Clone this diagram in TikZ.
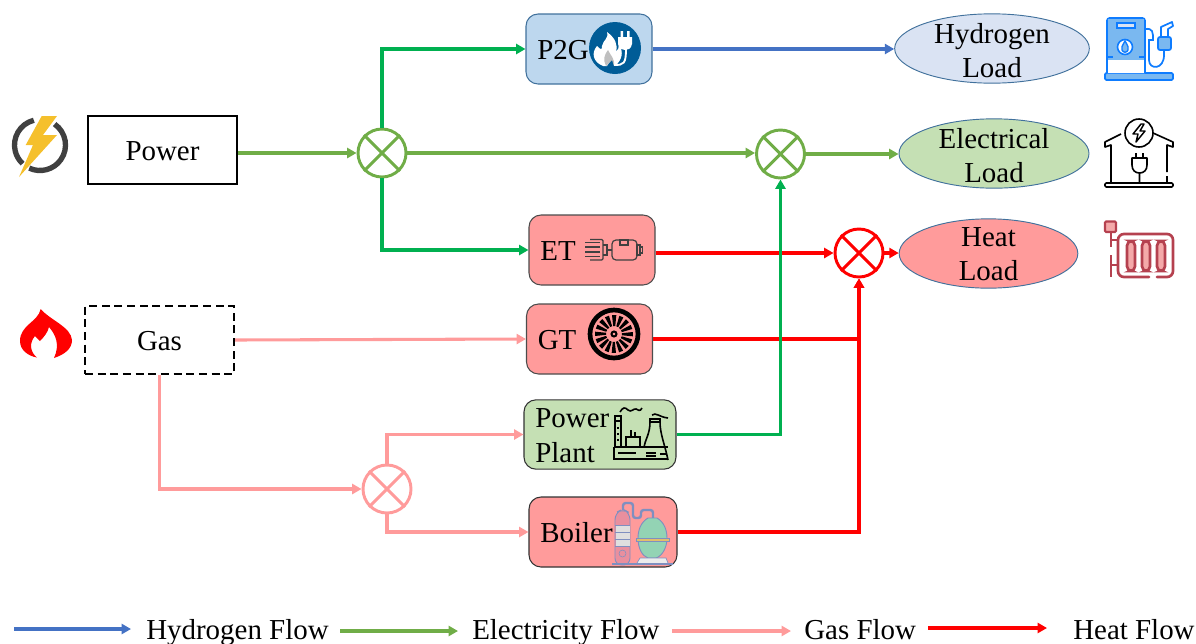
\documentclass[tikz,border=0pt]{standalone}
\usepackage{fontspec}
\setmainfont{Liberation Serif}
\usetikzlibrary{shapes.geometric,arrows.meta}
\definecolor{hflow}{HTML}{4472C4}
\definecolor{eflow}{HTML}{70AD47}
\definecolor{eline}{HTML}{00B050}
\definecolor{gflow}{HTML}{FF9B9B}
\definecolor{qflow}{HTML}{FF0000}
\definecolor{p2gfill}{HTML}{BDD7EE}
\definecolor{hfill}{HTML}{DAE3F3}
\definecolor{efill}{HTML}{C5E0B4}
\definecolor{edge}{HTML}{41719C}
\definecolor{p2gblue}{HTML}{005C97}
\definecolor{boltyel}{HTML}{F5C02C}
\definecolor{pumpblue}{HTML}{0E7CFF}
\definecolor{pumpfill}{HTML}{7AB8F0}
\definecolor{radred}{HTML}{B5414F}
\definecolor{radfill}{HTML}{F4A9A9}
\definecolor{pipe}{HTML}{7F8FC0}
\definecolor{tank}{HTML}{E98F9E}
\definecolor{teal}{HTML}{93D3B4}
\definecolor{band}{HTML}{E3BE6B}
\tikzset{
  txt/.style={font=\fontsize{21.7}{26}\selectfont},
  oneline/.style={text height=18pt,text depth=2pt},
  twoline/.style={text height=14pt,text depth=22pt},
  procbox/.style={draw=#1,line width=.8pt,rounded corners=9pt,inner xsep=8.5pt,inner ysep=0pt,align=left,txt},
  srcbox/.style={draw=black,line width=1.5pt,minimum width=112pt,minimum height=51pt,inner sep=0pt,txt,oneline},
  load/.style={ellipse,draw=edge,line width=.7pt,inner sep=0pt,align=center,text width=90pt,minimum height=52pt,txt,twoline},
  mixer/.style={circle,draw=#1,line width=2.2pt,minimum size=36pt,inner sep=0pt},
  flow/.style={line width=2.3pt,-{Triangle[length=7pt,width=7.5pt]}}
}
\begin{document}
\begin{tikzpicture}[x=.75pt,y=-.75pt]
\useasboundingbox (0,0) rectangle (1196,643);
\node[srcbox] (Power) at (162.5,149.5) {Power};
\node[srcbox,dash pattern=on 6pt off 3.5pt] (Gas) at (159.5,340) {Gas};
\node[procbox=edge,fill=p2gfill,text width=77.5pt,minimum height=52.5pt,oneline] (P2G) at (589,49) {P2G};
\node[procbox=black!70,fill=gflow,text width=77.5pt,minimum height=52.5pt,oneline] (ET) at (592,250) {ET};
\node[procbox=black!70,fill=gflow,text width=77.5pt,minimum height=52.5pt,oneline] (GT) at (589.5,339) {GT};
\node[procbox=black!80,fill=efill,text width=97pt,minimum height=52pt,text height=15pt,text depth=25pt] (Plant) at (600,434.5) {Power\\Plant};
\node[procbox=black!80,fill=gflow,text width=94pt,minimum height=52.5pt,oneline] (Boiler) at (603,532) {Boiler};
\node[load,fill=hfill,minimum width=146pt] (HLoad) at (992,48.5) {Hydrogen\\Load};
\node[load,fill=efill,minimum width=142.5pt] (ELoad) at (994,153.5) {Electrical\\Load};
\node[load,fill=gflow,minimum width=134pt,text height=12.5pt,text depth=23.5pt] (QLoad) at (988.5,253.5) {Heat\\Load};
\node[mixer=eflow] (mixA) at (382,153) {};
\node[mixer=eflow] (mixB) at (780.5,154) {};
\node[mixer=qflow] (mixC) at (859,253) {};
\node[mixer=gflow] (mixD) at (387,489) {};
\foreach \m/\c in {mixA/eflow,mixB/eflow,mixC/qflow,mixD/gflow}
  \draw[\c,line width=2.2pt] (\m.45)--(\m.225) (\m.135)--(\m.315);
\draw[flow,eflow] (Power.east |- mixA.west)--(mixA.west);
\draw[flow,eline] (mixA.north) |- (P2G.west);
\draw[flow,eline] (mixA.south) |- (ET.west);
\draw[flow,eflow] (mixA.east)--(mixB.west |- mixA.east);
\draw[flow,eflow] (mixB.east)--(mixB.east -| ELoad.west);
\draw[flow,hflow] (P2G.east)--(P2G.east -| HLoad.west);
\draw[flow,qflow] (ET.east |- mixC.west)--(mixC.west);
\draw[flow,qflow] (mixC.east)--(mixC.east -| QLoad.west);
\draw[flow,qflow] (GT.east) -| (mixC.south);
\draw[flow,qflow] (Boiler.east) -| (mixC.south);
\draw[flow,eline] (Plant.east) -| (mixB.south);
\draw[flow,gflow] (Gas.east)--(GT.west);
\draw[flow,gflow] (Gas.south) |- (mixD.west);
\draw[flow,gflow] (mixD.north) |- (Plant.west);
\draw[flow,gflow] (mixD.south) |- (Boiler.west);
\path
(14,629) coordinate (hA) (131,629) coordinate (hB)
(340,631) coordinate (eA) (458,631) coordinate (eB)
(672,631) coordinate (gA) (791,631) coordinate (gB)
(928,628) coordinate (qA) (1047,628) coordinate (qB);
\foreach \a/\b/\c in {hA/hB/hflow,eA/eB/eflow,gA/gB/gflow,qA/qB/qflow}\draw[flow,\c] (\a)--(\b);
\node[txt,anchor=base west,inner sep=0pt] (hLab) at (146,639) {Hydrogen Flow};
\node[txt,anchor=base west,inner sep=0pt] (eLab) at (472,639) {Electricity Flow};
\node[txt,anchor=base west,inner sep=0pt] (gLab) at (804,639) {Gas Flow};
\node[txt,anchor=base west,inner sep=0pt] (qLab) at (1073,639) {Heat Flow};
% bolt
\draw[black!75,line width=4pt] (40,145)+(-104:25.5) arc (-104:-227:25.5);
\draw[black!75,line width=4pt] (40,145)+(-55:25.5) arc (-55:115:25.5);
\fill[boltyel] (41.7,116)--(57,116)--(43,135)--(57,135)--(19,177)--(33,145)--(25.7,145)--cycle;
% flame
\fill[qflow] (40.7,309) .. controls (38,322) and (20,325) .. (20,341) .. controls (20,350) and (28,356) .. (37,357.5) .. controls (30,352) and (29,343) .. (35,336) -- (40,341) .. controls (44,337) and (48,332) .. (49,327) .. controls (56,335) and (60,345) .. (54,358) .. controls (66,354) and (72,348) .. (72,340) .. controls (71,327) and (50,320) .. (40.7,309) -- cycle;
% pump
\draw[pumpblue,fill=pumpfill,line width=1.3pt,rounded corners=1pt] (1105,73) rectangle (1173,80);
\draw[pumpblue,fill=white,line width=1.3pt,rounded corners=2pt] (1107,73)--(1107,18)--(1145,18)--(1145,73);
\fill[pumpfill] (1108,19) rectangle (1144,60);
\draw[pumpblue,fill=hfill,line width=1.2pt] (1117,23) rectangle (1135,28);
\draw[pumpblue,fill=white,line width=1.2pt] (1125,47) circle (7.5);
\draw[pumpblue,fill=pumpfill,line width=1pt] (1125,41) .. controls (1122,46) and (1121,48) .. (1122,50) .. controls (1123,53) and (1127,53) .. (1128,50) .. controls (1129,48) and (1128,46) .. (1125,41) -- cycle;
\draw[pumpblue,line width=1.2pt] (1107,57)--(1113,57) (1139,57)--(1145,57);
\draw[pumpblue,line width=1.3pt] (1145,29) .. controls (1153,28) and (1153,32) .. (1153,40) -- (1149,40)--(1149,60) .. controls (1149,70) and (1164,70) .. (1164,55)--(1164,50);
\draw[pumpblue,fill=pumpfill,line width=1.3pt,rounded corners=1.5pt] (1158,37) rectangle (1171,50);
\draw[pumpblue,line width=1.3pt,line join=round] (1161,37)--(1161,27)--(1172,22)--(1173,26)--(1168,29)--(1168,37);
% house
\draw[black,line width=1.2pt] (1139,133) circle (14);
\draw[black,line width=1.1pt,line join=round] (1141,124)--(1133,134)--(1138,134)--(1136,142)--(1145,131)--(1140,131)--(1144,124)--cycle;
\draw[black,line width=1.2pt,line join=round] (1121,134)--(1105,142)--(1105,147)--(1111,145)--(1111,182);
\draw[black,line width=1.2pt,line join=round] (1153,133)--(1173,142)--(1173,147)--(1167,145)--(1167,172) (1167,176)--(1167,182);
\draw[black,line width=1.2pt,rounded corners=1pt] (1105,183) rectangle (1173,187);
\draw[black,line width=1.2pt,line join=round] (1136,153)--(1136,158) (1143,153)--(1143,158) (1132,158)--(1147,158)--(1147,165) .. controls (1147,170) and (1144,173) .. (1139.5,173) .. controls (1135,173) and (1132,170) .. (1132,165)--cycle (1139.5,173)--(1139.5,183);
% radiator
\draw[radred,fill=radfill,line width=1.6pt,rounded corners=.8pt] (1105,221.5) rectangle (1116,232);
\draw[radred,line width=2pt] (1111,232)--(1111,247) (1111,240)--(1118,240) (1111,255)--(1111,277) (1111,265)--(1118,265);
\draw[radred,line width=2pt,line cap=round,rounded corners=4.5pt] (1149,277)--(1118,277)--(1118,234)--(1173,234)--(1173,277)--(1157,277);
\foreach \x in {1131,1146,1161}
  \draw[radred,fill=radfill,line width=2pt,rounded corners=3.5pt] (\x-4,241) rectangle (\x+4,271);
% p2g
\fill[p2gblue] (615,48) circle (26);
\fill[white] (603,66) .. controls (593,62) and (591,53) .. (597,46) .. controls (601,50) and (602,50) .. (602,46) .. controls (603,40) and (609,39) .. (607,32) .. controls (615,38) and (618,44) .. (616,52) .. controls (618,50) and (619,47) .. (619,45) .. controls (624,52) and (622,60) .. (615,66) -- (612,58) -- (607,66) -- cycle;
\fill[black!25] (606,66) .. controls (603,60) and (604,55) .. (608,50) .. controls (610,55) and (615,58) .. (614,66) -- (612,60) -- cycle;
\draw[white,line width=1.4pt] (626,48) .. controls (626,64) and (624,65) .. (614,65);
\fill[white] (618,37) -- (632,37) -- (632,44) .. controls (631,49) and (628,50) .. (625,50) .. controls (622,50) and (619,49) .. (618,44) -- cycle;
\fill[white] (620.5,31) rectangle (623,37) (627,31) rectangle (629.5,37);
% motor
\begin{scope}[black!75,line width=.9pt]
\draw[rounded corners=3pt] (612,240) rectangle (637,260);
\draw (620,240) rectangle (628,245) (637,245) rectangle (640,255) (640,247) rectangle (642.5,253);
\draw[rounded corners=1pt] (590,239.5) -- (603,239.5) -- (603,260) -- (590,260);
\foreach \y in {242.5,247,252,256.5}\draw (585,\y)--(600,\y);
\draw (603,245)--(607,245)--(607,255)--(603,255) (607,250)--(612,250);
\end{scope}
% turbine
\begin{scope}[shift={(614,334)}]
\draw[black,line width=3.5pt] (0,0) circle (24);
\foreach \t in {0,22.5,...,337.5}\fill[black] (\t-6:8)--(\t-6:19)--(\t+7:19)--(\t+9:8)--cycle;
\draw[black,line width=1.5pt] (0,0) circle (2.5);
\end{scope}
% plant
\begin{scope}[black,line width=1.2pt]
\draw (615,416) rectangle (621,447) (615,421)--(621,421);
\draw (620,412) .. controls (623,407) and (625,407) .. (628,410) .. controls (631,413) and (634,408) .. (636,409) .. controls (638,410) and (640,412) .. (642,408);
\draw (650,419) rectangle (660,422) (650,422) .. controls (650,434) and (645,440) .. (644,447) (660,422) .. controls (660,434) and (665,445) .. (668,460);
\draw (652,415) .. controls (656,412) and (659,417) .. (668,418);
\draw (614,447)--(668,447) (614,447)--(614,459)--(668,459) (618,453)--(636,453) (646,453)--(656,453) (646,456)--(656,456) (660,454)--(666,454);
\draw (626,447)--(626,437)--(640,437)--(640,447) (631,437)--(631,430) (635,437)--(635,432);
\end{scope}
\foreach \y in {427,433,439}\fill[black] (617,\y) rectangle (619,\y+2);
% boiler
\draw[pipe,line width=1.8pt,rounded corners=2pt] (623,510) -- (623,503) -- (633,503) -- (633,518) -- (641,518) -- (641,510) -- (653,510) -- (653,518);
\draw[pipe,fill=tank,line width=.7pt,rounded corners=5pt] (615,565) -- (615,513) -- (623,509) -- (630,513) -- (630,565) -- cycle;
\fill[gray!25] (615.5,525) rectangle (629.5,546);
\draw[pipe,line width=.5pt] (615,525)--(630,525) (615,532)--(630,532) (615,539)--(630,539) (615,546)--(630,546);
\draw[pipe] (622.5,553.5) circle (3.5);
\draw[pipe,fill=teal,line width=.7pt] (648,518) -- (657,518) .. controls (664,522) and (667,530) .. (667,538) .. controls (667,548) and (662,556) .. (656,558) -- (648,558) .. controls (642,556) and (638,548) .. (638,538) .. controls (638,530) and (641,522) .. (648,518) -- cycle;
\draw[pipe,fill=band,line width=.4pt] (636,538) rectangle (669,541.5);
\draw[pipe,fill=gray!15,line width=.5pt] (637,563) -- (640,558) -- (666,558) -- (668,563);
\draw[pipe,fill=pipe!60,line width=.7pt] (612,563) rectangle (672,564.5);
\end{tikzpicture}
\end{document}
